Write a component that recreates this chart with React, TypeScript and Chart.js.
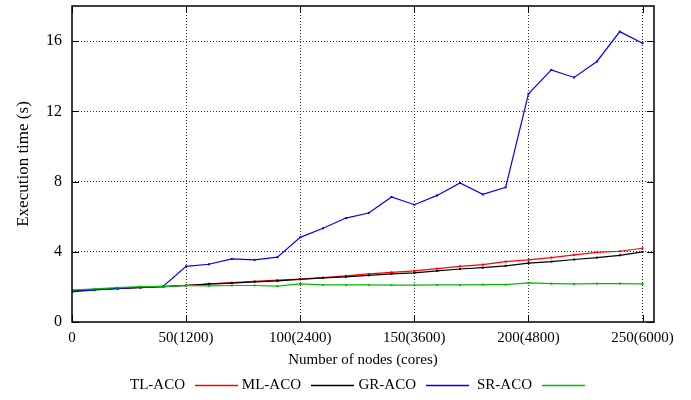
import React, { useEffect, useRef } from "react";
import { Chart, registerables } from "chart.js";

Chart.register(...registerables);

// Number of nodes (x); cores = nodes * 24
const nodes = [0, 10, 20, 30, 40, 50, 60, 70, 80, 90, 100, 110, 120, 130, 140, 150, 160, 170, 180, 190, 200, 210, 220, 230, 240, 250];

// Execution time in seconds
const tlAco = [1.80, 1.85, 1.92, 1.97, 2.02, 2.09, 2.18, 2.24, 2.31, 2.38, 2.45, 2.53, 2.63, 2.74, 2.83, 2.91, 3.04, 3.17, 3.27, 3.44, 3.54, 3.67, 3.82, 3.97, 4.03, 4.20];
const mlAco = [1.78, 1.84, 1.91, 1.96, 2.01, 2.08, 2.16, 2.22, 2.29, 2.34, 2.43, 2.51, 2.57, 2.66, 2.74, 2.80, 2.91, 3.02, 3.10, 3.20, 3.35, 3.44, 3.56, 3.67, 3.80, 3.99];
const grAco = [1.72, 1.83, 1.90, 1.98, 2.04, 3.17, 3.29, 3.59, 3.54, 3.69, 4.82, 5.34, 5.92, 6.21, 7.12, 6.68, 7.21, 7.92, 7.27, 7.67, 13.0, 14.36, 13.93, 14.84, 16.54, 15.88];
const srAco = [1.82, 1.89, 1.96, 2.02, 2.01, 2.09, 2.06, 2.08, 2.08, 2.04, 2.17, 2.11, 2.11, 2.11, 2.10, 2.10, 2.11, 2.11, 2.13, 2.13, 2.23, 2.19, 2.17, 2.19, 2.19, 2.17];

const seriesNames = ["TL-ACO", "ML-ACO", "GR-ACO", "SR-ACO"];
const seriesColors = ["#ff0000", "#000000", "#0000ff", "#00bb00"];
const seriesValues = [tlAco, mlAco, grAco, srAco];

const xTickLabels: Record<number, string> = {
  0: "0",
  50: "50(1200)",
  100: "100(2400)",
  150: "150(3600)",
  200: "200(4800)",
  250: "250(6000)",
};

const xTitle = "Number of nodes (cores)";
const yTitle = "Execution time (s)";

const SERIF = "'Liberation Serif', 'Times New Roman', serif";

// Frame, inward tick marks and a key with the label before each sample line
const framePlugin = {
  id: "frameAndKey",
  afterDraw(chart: any) {
    const { ctx, chartArea } = chart;
    const { left, right, top, bottom } = chartArea;
    const xs = chart.scales.x;
    const ys = chart.scales.y;
    const tickLen = 7;
    ctx.save();
    ctx.strokeStyle = "#000";
    ctx.lineWidth = 1;
    ctx.beginPath();
    xs.ticks.forEach((t: any) => {
      const px = Math.round(xs.getPixelForValue(t.value)) + 0.5;
      ctx.moveTo(px, bottom);
      ctx.lineTo(px, bottom - tickLen);
      ctx.moveTo(px, top);
      ctx.lineTo(px, top + tickLen);
    });
    ys.ticks.forEach((t: any) => {
      const py = Math.round(ys.getPixelForValue(t.value)) + 0.5;
      ctx.moveTo(left, py);
      ctx.lineTo(left + tickLen, py);
      ctx.moveTo(right, py);
      ctx.lineTo(right - tickLen, py);
    });
    ctx.stroke();

    ctx.lineWidth = 1.5;
    ctx.strokeRect(left, top, right - left, bottom - top);

    // key
    const cx = (left + right) / 2;
    const keyY = 385;
    const step = 115.6;
    const sampleLen = 43;
    ctx.font = `15px ${SERIF}`;
    ctx.textAlign = "right";
    ctx.textBaseline = "middle";
    seriesNames.forEach((name, i) => {
      const lineStart = Math.round(cx - 168 + i * step);
      ctx.fillStyle = "#000";
      ctx.fillText(name, lineStart - 10, keyY);
      ctx.strokeStyle = seriesColors[i];
      ctx.lineWidth = 1.5;
      ctx.beginPath();
      ctx.moveTo(lineStart, keyY + 0.5);
      ctx.lineTo(lineStart + sampleLen, keyY + 0.5);
      ctx.stroke();
    });
    ctx.restore();
  },
};

export default function App() {
  const canvasRef = useRef<HTMLCanvasElement | null>(null);

  useEffect(() => {
    const canvas = canvasRef.current;
    if (!canvas) return;

    const datasets = seriesNames.map((name, i) => ({
      label: name,
      data: nodes.map((x, j) => ({ x, y: seriesValues[i][j] })),
      borderColor: seriesColors[i],
      backgroundColor: seriesColors[i],
      borderWidth: 1.2,
      pointRadius: 1.4,
      pointStyle: "rect" as const,
      pointBorderWidth: 0,
      tension: 0,
      order: seriesNames.length - i,
    }));

    const gridColor = (c: any) => (c.tick && c.tick.value === 0 ? "rgba(0,0,0,0)" : "#333");

    const chart = new Chart(canvas, {
      type: "line",
      data: { datasets },
      plugins: [framePlugin],
      options: {
        animation: false,
        responsive: false,
        layout: { padding: { top: 6, right: 37, left: 0, bottom: 28 } },
        plugins: {
          legend: { display: false },
          tooltip: { enabled: false },
        },
        scales: {
          x: {
            type: "linear",
            min: 0,
            max: 255,
            afterFit: (s: any) => {
              s.height = 50;
              s.paddingLeft = 0;
              s.paddingRight = 0;
            },
            ticks: {
              stepSize: 50,
              includeBounds: false,
              autoSkip: false,
              maxRotation: 0,
              padding: 7,
              color: "#000",
              font: { family: SERIF, size: 15 },
              callback: (v: any) => xTickLabels[v as number] ?? "",
            },
            grid: { color: gridColor, drawTicks: false, lineWidth: 1 },
            border: { display: false, dash: [1, 2] },
            title: {
              display: true,
              text: xTitle,
              color: "#000",
              font: { family: SERIF, size: 15 },
              padding: { top: 0, bottom: 3 },
            },
          },
          y: {
            type: "linear",
            min: 0,
            max: 18,
            afterFit: (s: any) => {
              s.width = 72;
              s.paddingTop = 0;
              s.paddingBottom = 0;
            },
            ticks: {
              stepSize: 4,
              includeBounds: false,
              padding: 10,
              color: "#000",
              font: { family: SERIF, size: 16 },
            },
            grid: { color: gridColor, drawTicks: false, lineWidth: 1 },
            border: { display: false, dash: [1, 2] },
            title: {
              display: true,
              text: yTitle,
              color: "#000",
              font: { family: SERIF, size: 17 },
              padding: { top: 13, bottom: 0 },
            },
          },
        },
      },
    });

    return () => chart.destroy();
  }, []);

  return (
    <div style={{ position: "absolute", left: 0, top: 0, width: 691, height: 400, background: "#fff" }}>
      <canvas ref={canvasRef} width={691} height={400} style={{ display: "block" }} />
    </div>
  );
}
